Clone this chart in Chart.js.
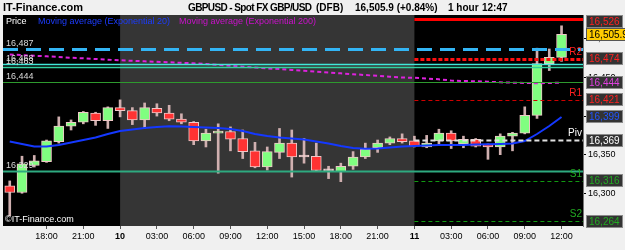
<!DOCTYPE html>
<html>
<head>
<meta charset="utf-8">
<script src="https://cdn.jsdelivr.net/npm/chart.js@4.4.0/dist/chart.umd.min.js"></script>
<style>
  html, body { margin: 0; padding: 0; background: #f0f0f0; }
  #wrap { position: relative; width: 625px; height: 250px; overflow: hidden; font-family: "Liberation Sans", Arial, sans-serif; }
  #c { position: absolute; left: 0; top: 0; }
  .t { position: absolute; white-space: nowrap; line-height: 1; }
  .hd { font-size: 10px; font-weight: bold; color: #000; top: 3px; }
  .lg { font-size: 9px; top: 17px; }
</style>
</head>
<body>
<div id="wrap">
  <canvas id="c" width="625" height="250"></canvas>
  <div class="t hd" style="left:3px;top:2px;font-size:11px">IT-Finance.com</div>
  <div class="t hd" style="left:188px;letter-spacing:-0.6px">GBPUSD - Spot FX GBP/USD</div>
  <div class="t hd" style="left:316px">(DFB)</div>
  <div class="t hd" style="left:355px">16,505.9 (+0.84%)</div>
  <div class="t hd" style="left:448px">1 hour</div>
  <div class="t hd" style="left:482px">12:47</div>
  <div class="t lg" style="left:6px;color:#ffffff">Price</div>
  <div class="t lg" style="left:38px;color:#1c3cff">Moving average (Exponential 20)</div>
  <div class="t lg" style="left:179px;color:#cc11cc">Moving average (Exponential 200)</div>
  <div class="t" style="left:5px;top:215px;font-size:9px;color:#ffffff">©IT-Finance.com</div>
</div>
<script>
// hours from 10th 00:00 (one candle per hour, 9th 15:00 -> 11th 12:00)
const hours = [-9, -8, -7, -6, -5, -4, -3, -2, -1, 0, 1, 2, 3, 4, 5, 6, 7, 8, 9, 10, 11, 12, 13, 14, 15, 16, 17, 18, 19, 20, 21, 22, 23, 24, 25, 26, 27, 28, 29, 30, 31, 32, 33, 34, 35, 36];
const opens  = [16309.5, 16301, 16336, 16341, 16367, 16387, 16392, 16404, 16394, 16411, 16407, 16395, 16410, 16404, 16396, 16392, 16368, 16378, 16380, 16371, 16355, 16334, 16353, 16365, 16347, 16348, 16329, 16328, 16335, 16347, 16359, 16365, 16371, 16368, 16360, 16368, 16378, 16364, 16370, 16363, 16360, 16374, 16378, 16401, 16468, 16476];
const highs  = [16316, 16348, 16349, 16369, 16399, 16395, 16406, 16405, 16412, 16421, 16411, 16417, 16416, 16414, 16403, 16393, 16383, 16390, 16386, 16382, 16366, 16360, 16384, 16382, 16371, 16365, 16335, 16339, 16354, 16365, 16369, 16373, 16377, 16374, 16375, 16383, 16381, 16374, 16371, 16364, 16377, 16379, 16412, 16488, 16487, 16517];
const lows   = [16271, 16300, 16334, 16340, 16365, 16382, 16390, 16388, 16384, 16399, 16389, 16384, 16400, 16394, 16390, 16363, 16360, 16326, 16355, 16345, 16333, 16330, 16345, 16321, 16339, 16329, 16319, 16315, 16331, 16345, 16353, 16363, 16365, 16360, 16359, 16364, 16358, 16359, 16360, 16344, 16350, 16355, 16377, 16397, 16459, 16471];
const closes = [16301, 16338, 16342, 16368, 16387, 16392, 16405, 16394, 16411, 16407, 16395, 16411, 16404, 16396, 16392, 16368, 16378, 16380, 16370, 16354, 16334, 16354, 16365, 16347, 16347.5, 16329.5, 16329.5, 16335, 16347, 16357, 16365, 16371, 16367, 16361, 16365, 16378, 16368, 16370, 16361, 16360, 16374, 16378, 16401, 16468, 16476, 16505.9];
const ema20  = [16367.1, 16363.9, 16360.6, 16360.6, 16362.6, 16365.8, 16369.0, 16372.3, 16376.8, 16380.7, 16382.6, 16384.6, 16385.9, 16386.8, 16386.5, 16385.9, 16385.2, 16384.6, 16383.3, 16380.7, 16376.8, 16374.2, 16372.3, 16371.0, 16369.7, 16367.1, 16364.5, 16361.3, 16358.7, 16357.8, 16358.0, 16359.3, 16360.6, 16361.3, 16361.9, 16362.6, 16362.6, 16362.6, 16363.2, 16363.5, 16363.9, 16364.5, 16367.7, 16376.8, 16387.2, 16398.8];
const ema200 = [16479.8, 16479.1, 16478.2, 16477.5, 16476.6, 16475.6, 16474.9, 16474.0, 16473.1, 16472.3, 16471.6, 16471.0, 16470.3, 16469.7, 16469.0, 16468.4, 16467.4, 16466.3, 16465.2, 16464.1, 16463.0, 16461.9, 16460.9, 16459.7, 16458.7, 16457.5, 16456.5, 16455.4, 16454.3, 16453.2, 16452.1, 16451.0, 16450.0, 16449.6, 16448.7, 16447.7, 16446.1, 16445.5, 16445.1, 16444.6, 16443.8, 16443.3, 16442.9, 16442.6, 16442.9, 16443.3];

const tickHours  = [-6, -3, 0, 3, 6, 9, 12, 15, 18, 21, 24, 27, 30, 33, 36];
const tickLabels = ['18:00', '21:00', '10', '03:00', '06:00', '09:00', '12:00', '15:00', '18:00', '21:00', '11', '03:00', '06:00', '09:00', '12:00'];
const sessionBand = [0, 24];

// horizontal levels
const levelValues = [16526, 16487, 16474, 16468, 16463, 16444, 16421, 16369, 16329, 16316, 16264];
const levelNames  = ['R3', '', 'R2', '', '', '', 'R1', 'Piv', '', 'S1', 'S2'];
const levelStyles = [
  { color: '#ff0000', width: 3, dash: [], today: true },
  { color: '#33b5f5', width: 3, dash: [15, 8], today: false },
  { color: '#ff1010', width: 3, dash: [4, 2], today: true },
  { color: '#40e8d8', width: 1.5, dash: [], today: false },
  { color: '#30d0a0', width: 1.5, dash: [], today: false },
  { color: '#2e9a2e', width: 1, dash: [], today: false },
  { color: '#d00000', width: 1, dash: [4, 3], today: true },
  { color: '#e0e0e0', width: 2, dash: [5, 3], today: true },
  { color: '#2eaa80', width: 2, dash: [], today: false },
  { color: '#119911', width: 1, dash: [4, 3], today: true },
  { color: '#119911', width: 1, dash: [4, 3], today: true }
];

// price boxes on the right axis
const boxValues = [16526, 16505.9, 16474, 16444, 16421, 16399, 16369, 16316, 16264];
const boxLabels = ['16,526', '16,505.9', '16,474', '16,444', '16,421', '16,399', '16,369', '16,316', '16,264'];
const boxColors = ['#ff2020', '#000000', '#ff2020', '#e040e0', '#ff2020', '#2255ff', '#ffffff', '#22aa22', '#22aa22'];

const fmt = v => v.toLocaleString('en-US');

const bgPlugin = {
  id: 'bg',
  beforeDraw(chart) {
    const { ctx, chartArea: a, scales: { x } } = chart;
    ctx.save();
    ctx.fillStyle = '#000';
    ctx.fillRect(a.left, a.top, a.right - a.left, a.bottom - a.top);
    const x0 = x.getPixelForValue(sessionBand[0]);
    const x1 = x.getPixelForValue(sessionBand[1]);
    ctx.fillStyle = '#353535';
    ctx.fillRect(x0, a.top, x1 - x0, a.bottom - a.top);
    ctx.restore();
  }
};

const levelsPlugin = {
  id: 'levels',
  afterDatasetsDraw(chart) {
    const { ctx, chartArea: a, scales: { x, y } } = chart;
    ctx.save();
    ctx.beginPath();
    ctx.rect(a.left, a.top, a.right - a.left, a.bottom - a.top);
    ctx.clip();
    levelValues.forEach((v, i) => {
      const s = levelStyles[i];
      const py = Math.round(y.getPixelForValue(v)) + 0.5;
      const from = s.today ? x.getPixelForValue(sessionBand[1]) : a.left;
      ctx.strokeStyle = s.color;
      ctx.lineWidth = s.width;
      ctx.setLineDash(s.dash);
      ctx.beginPath();
      ctx.moveTo(from, py);
      ctx.lineTo(a.right, py);
      ctx.stroke();
      ctx.setLineDash([]);
      if (s.today) {
        if (levelNames[i]) {
          ctx.font = '10px "Liberation Sans", Arial';
          ctx.textAlign = 'right';
          ctx.textBaseline = 'bottom';
          ctx.fillStyle = levelNames[i] === 'Piv' ? '#ffffff' : (levelNames[i][0] === 'S' ? '#22aa22' : '#ff2020');
          ctx.fillText(levelNames[i], a.right - 1, py - 2);
        }
      } else {
        ctx.font = '9px "Liberation Sans", Arial';
        ctx.textAlign = 'left';
        ctx.textBaseline = 'bottom';
        ctx.fillStyle = '#d8d8d8';
        ctx.fillText(fmt(v), a.left + 3, py - 1);
      }
    });
    ctx.restore();
  },
  afterDraw(chart) {
    const { ctx, chartArea: a, scales: { y } } = chart;
    ctx.save();
    ctx.font = '10px "Liberation Sans", Arial';
    ctx.textAlign = 'left';
    ctx.textBaseline = 'middle';
    boxValues.forEach((v, i) => {
      const h = 13;
      const top = Math.max(a.top, Math.round(y.getPixelForValue(v) - h / 2));
      const w = Math.ceil(ctx.measureText(boxLabels[i]).width) + 6;
      const bx = y.left + 3;
      const current = i === 1;
      ctx.fillStyle = current ? '#ffcc00' : '#333333';
      ctx.fillRect(bx, top, w, h);
      ctx.strokeStyle = current ? '#555555' : '#8a8a8a';
      ctx.lineWidth = 1;
      ctx.strokeRect(bx + 0.5, top + 0.5, w - 1, h - 1);
      ctx.fillStyle = boxColors[i];
      ctx.fillText(boxLabels[i], bx + 3, top + h / 2 + 0.5);
    });
    ctx.restore();
  }
};

const bodies = hours.map((h, i) => ({ x: h, y: [opens[i], closes[i]] }));
const wicks = hours.map((h, i) => ({ x: h, y: [lows[i], highs[i]] }));

new Chart(document.getElementById('c'), {
  type: 'bar',
  data: {
    datasets: [
      {
        type: 'line', label: 'Moving average (Exponential 20)',
        data: hours.map((h, i) => ({ x: h, y: ema20[i] })),
        borderColor: '#1438ff', borderWidth: 2, pointRadius: 0, tension: 0, order: 0
      },
      {
        type: 'line', label: 'Moving average (Exponential 200)',
        data: hours.map((h, i) => ({ x: h, y: ema200[i] })),
        borderColor: '#dd22dd', borderWidth: 2, borderDash: [4, 3], pointRadius: 0, tension: 0, order: 1
      },
      {
        label: 'Price',
        data: bodies,
        backgroundColor: c => {
          const i = c.dataIndex;
          if (Math.abs(closes[i] - opens[i]) < 1) return '#f4e4e4';
          return closes[i] >= opens[i] ? '#80ff80' : '#ff3333';
        },
        borderColor: '#f0c8c8', borderWidth: 1, borderSkipped: false,
        barThickness: 10, minBarLength: 2, grouped: false, order: 2
      },
      {
        label: 'wick',
        data: wicks,
        backgroundColor: '#d0b0b0',
        barThickness: 2, grouped: false, order: 3
      }
    ]
  },
  options: {
    responsive: false,
    animation: false,
    layout: { padding: { top: 15, left: 3, right: 0, bottom: 0 } },
    plugins: { legend: { display: false }, tooltip: { enabled: false } },
    scales: {
      x: {
        type: 'linear', min: -9.55, max: 37.75, offset: false,
        afterBuildTicks: s => { s.ticks = tickHours.map(v => ({ value: v })); },
        afterFit: s => { s.height = 24; },
        ticks: {
          autoSkip: false, maxRotation: 0, padding: 2, color: '#000',
          callback: v => tickLabels[tickHours.indexOf(v)],
          font: c => ({ family: '"Liberation Sans", Arial', size: 9, weight: (c.tick && c.tick.value % 24 === 0) ? 'bold' : 'normal' })
        },
        grid: { drawOnChartArea: false, offset: false, tickLength: 3, color: '#555' },
        border: { display: false }
      },
      y: {
        position: 'right', min: 16257.6, max: 16531, beginAtZero: false,
        afterFit: s => { s.width = 42; },
        ticks: { stepSize: 50, includeBounds: false, padding: 2, color: '#000', font: { family: '"Liberation Sans", Arial', size: 9 }, callback: v => fmt(v) },
        grid: { drawOnChartArea: false, tickLength: 3, color: '#000' },
        border: { color: '#777' }
      }
    }
  },
  plugins: [bgPlugin, levelsPlugin]
});
</script>
</body>
</html>
